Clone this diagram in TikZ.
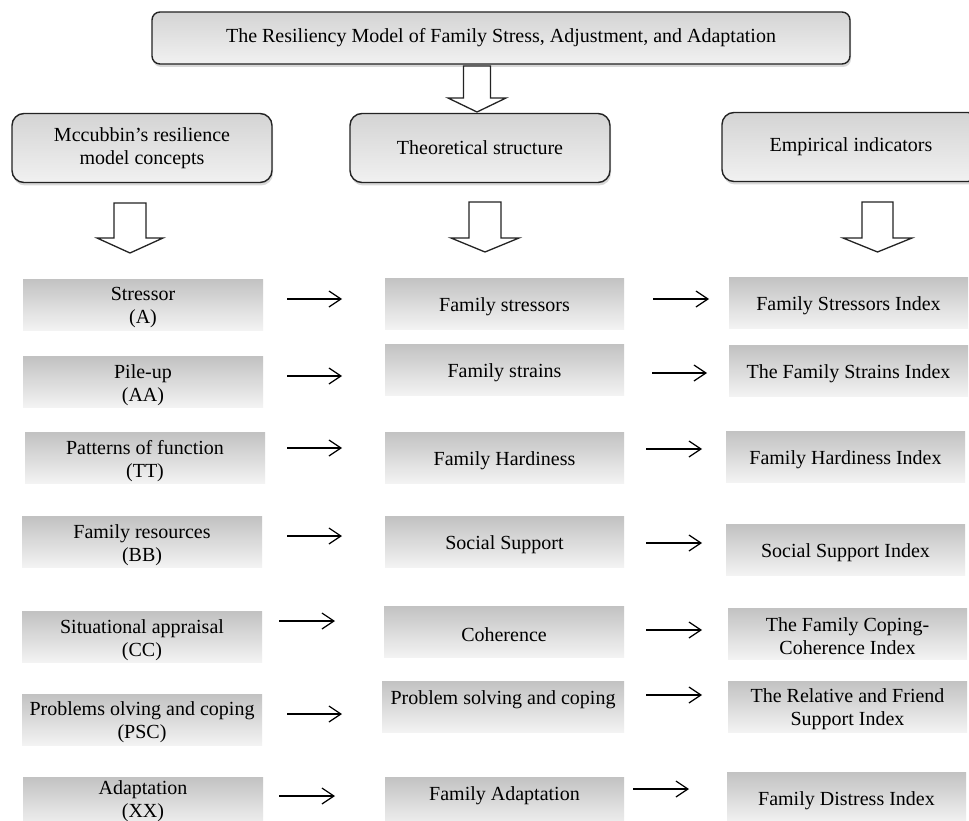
\documentclass[tikz,border=0pt]{standalone}
\usepackage{fontspec}
\setmainfont{Liberation Serif}
\usetikzlibrary{arrows.meta,shadows}
\definecolor{hdtop}{RGB}{212,212,212}
\definecolor{hdbot}{RGB}{241,241,241}
\definecolor{rtop}{RGB}{194,194,194}
\definecolor{rbot}{RGB}{243,243,243}
\definecolor{edge}{RGB}{35,35,35}
\newcommand{\hollowarrow}[6]{%
  \draw[hollow] (#1-#2,#4) -- (#1+#2,#4) -- (#1+#2,#5) -- (#1+#3,#5) -- (#1,#6) -- (#1-#3,#5) -- (#1-#2,#5) -- cycle;}
% box name, centre, text, width
\newcommand{\rowb}[4]{%
  \node[rowbox, minimum width=#4pt] (#1) at (#2) {};
  \node[rowtxt] (#1t) at ([yshift=-3pt]#1.center) {#3};}
\tikzset{
  hdr/.style={draw=edge, line width=1.4pt, rounded corners=12pt, top color=hdtop, bottom color=hdbot,
    minimum width=260pt, minimum height=69pt, inner sep=0pt, align=center,
    font=\fontsize{20}{23}\selectfont,
    drop shadow={shadow xshift=1pt, shadow yshift=-3pt, opacity=0.3}},
  ttl/.style={hdr, rounded corners=8pt, minimum width=698pt, minimum height=52pt},
  rowbox/.style={top color=rtop, bottom color=rbot, minimum height=51pt, inner sep=0pt},
  rowtxt/.style={inner sep=0pt, align=center, font=\fontsize{20}{23}\selectfont},
  conn/.style={line width=1.2pt, -{Straight Barb[length=12pt,width=16pt,line width=1.2pt]}},
  hollow/.style={draw=edge, fill=white, line width=1.3pt, line join=miter},
}
\begin{document}
\begin{tikzpicture}[x=1pt,y=-1pt]
\fill[white] (0,0) rectangle (969,821);
\useasboundingbox (0,0) rectangle (969,821);
\clip (0,0) rectangle (969,821);

% title and headers
\node[ttl] (title) at (501,38) {The Resiliency Model of Family Stress, Adjustment, and Adaptation};
\node[hdr] (h1) at (142,148) {Mccubbin's resilience\\model concepts};
\node[hdr] (h2) at (480,148) {Theoretical structure};
\node[hdr, minimum width=258pt] (h3) at (851,147) {Empirical indicators};

% hollow block arrows
\hollowarrow{477}{13.5}{29}{66}{98}{112}
\hollowarrow{130}{16}{33}{203}{238}{253}
\hollowarrow{485}{16}{34}{202}{238}{252}
\hollowarrow{877.5}{15.5}{34.5}{202}{238}{252}

% column 1
\rowb{c1r1}{143,304.5}{Stressor\\(A)}{240}
\rowb{c1r2}{143,382}{Pile-up\\(AA)}{240}
\rowb{c1r3}{145,458}{Patterns of function\\(TT)}{240}
\rowb{c1r4}{142,542}{Family resources\\(BB)}{240}
\rowb{c1r5}{142,637}{Situational appraisal\\(CC)}{240}
\rowb{c1r6}{142,719.5}{Problems olving and coping\\(PSC)}{240}
\node[rowbox, minimum width=240pt] (c1r7) at (143,802.5) {};
\node[rowtxt] (c1r7t) at ([yshift=1pt]c1r7.center) {Adaptation\\(XX)};

% column 2
\rowb{c2r1}{504.5,303.5}{Family stressors}{239}
\rowb{c2r2}{504.5,369.5}{Family strains}{239}
\rowb{c2r3}{504.5,457.5}{Family Hardiness}{239}
\rowb{c2r4}{504.5,542}{Social Support}{239}
\rowb{c2r5}{504,631.5}{Coherence}{240}
\rowb{c2r6}{503,706.5}{Problem solving and coping\\\mbox{}}{242}
\rowb{c2r7}{504.5,802.5}{Family Adaptation\\\mbox{}}{239}

% column 3
\rowb{c3r1}{848.5,302.5}{Family Stressors Index}{239}
\rowb{c3r2}{848.5,371}{The Family Strains Index}{239}
\rowb{c3r3}{845.5,456.5}{Family Hardiness Index}{239}
\rowb{c3r4}{845.5,550}{Social Support Index}{239}
\rowb{c3r5}{847.5,633.5}{The Family Coping-\\Coherence Index}{239}
\rowb{c3r6}{847.5,706.5}{The Relative and Friend\\Support Index}{239}
\rowb{c3r7}{846.5,797.5}{Family Distress Index}{239}

% connector end points
\coordinate (a1s) at (287,299); \coordinate (a1e) at (342,299);
\coordinate (a2s) at (287,376); \coordinate (a2e) at (342,376);
\coordinate (a3s) at (287,448); \coordinate (a3e) at (342,448);
\coordinate (a4s) at (287,536); \coordinate (a4e) at (342,536);
\coordinate (a5s) at (279,621); \coordinate (a5e) at (335,621);
\coordinate (a6s) at (287,714); \coordinate (a6e) at (342,714);
\coordinate (a7s) at (279,796); \coordinate (a7e) at (335,796);
\coordinate (b1s) at (653,299); \coordinate (b1e) at (709,299);
\coordinate (b2s) at (652,373); \coordinate (b2e) at (707,373);
\coordinate (b3s) at (646,449); \coordinate (b3e) at (702,449);
\coordinate (b4s) at (646,543); \coordinate (b4e) at (702,543);
\coordinate (b5s) at (646,630); \coordinate (b5e) at (702,630);
\coordinate (b6s) at (646,695); \coordinate (b6e) at (702,695);
\coordinate (b7s) at (633,789); \coordinate (b7e) at (689,789);

\foreach \i in {1,...,7}{
  \draw[conn] (a\i s) -- (a\i e);
  \draw[conn] (b\i s) -- (b\i e);
}
\end{tikzpicture}
\end{document}
